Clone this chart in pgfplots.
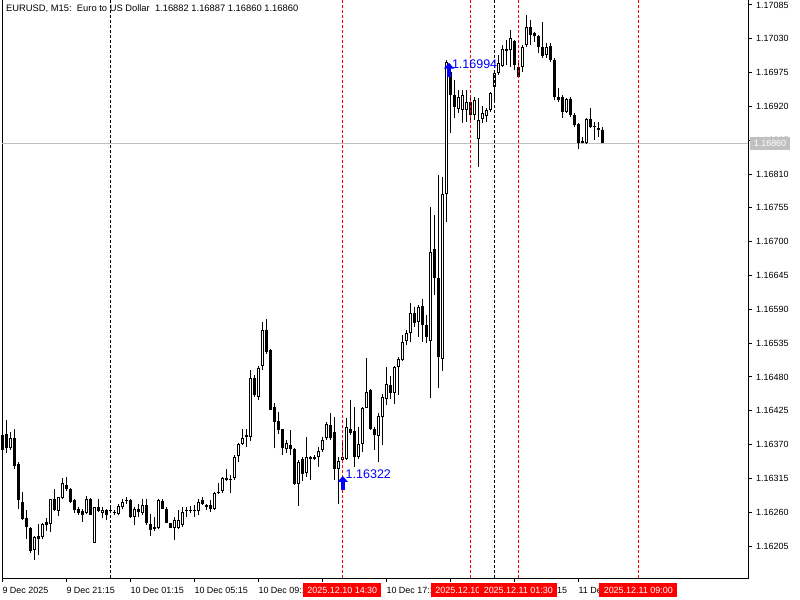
\documentclass[border=0pt]{standalone}
\usepackage{fontspec}
\setmainfont{Liberation Sans}
\usepackage{pgfplots}
\pgfplotsset{compat=1.18}
\usepackage{pgfplotstable}
\usetikzlibrary{arrows.meta}
\definecolor{mtblue}{RGB}{0,0,255}
\definecolor{pricegray}{RGB}{192,192,192}
\definecolor{mtred}{RGB}{255,0,0}

\pgfplotstableread{
i o h l c
0 1.16385 1.16391 1.16358 1.16361
1 1.16388 1.16410 1.16356 1.16364
2 1.16364 1.16391 1.16361 1.16380
3 1.16380 1.16395 1.16331 1.16335
4 1.16338 1.16342 1.16266 1.16280
5 1.16277 1.16293 1.16247 1.16249
6 1.16250 1.16263 1.16217 1.16236
7 1.16235 1.16236 1.16194 1.16197
8 1.16198 1.16221 1.16183 1.16220
9 1.16221 1.16241 1.16190 1.16217
10 1.16219 1.16243 1.16216 1.16241
11 1.16244 1.16250 1.16230 1.16240
12 1.16241 1.16282 1.16228 1.16281
13 1.16281 1.16297 1.16262 1.16263
14 1.16262 1.16285 1.16254 1.16284
15 1.16283 1.16316 1.16281 1.16307
16 1.16305 1.16318 1.16295 1.16298
17 1.16298 1.16299 1.16275 1.16277
18 1.16280 1.16282 1.16259 1.16263
19 1.16266 1.16269 1.16255 1.16259
20 1.16262 1.16266 1.16244 1.16255
21 1.16258 1.16286 1.16257 1.16281
22 1.16282 1.16283 1.16255 1.16255
23 1.16210 1.16269 1.16210 1.16268
24 1.16268 1.16281 1.16260 1.16262
25 1.16258 1.16268 1.16250 1.16263
26 1.16263 1.16266 1.16247 1.16255
27 1.16263 1.16268 1.16258 1.16262
28 1.16260 1.16263 1.16255 1.16259
29 1.16257 1.16273 1.16255 1.16270
30 1.16268 1.16281 1.16266 1.16276
31 1.16280 1.16285 1.16274 1.16278
32 1.16280 1.16281 1.16250 1.16252
33 1.16253 1.16269 1.16239 1.16266
34 1.16266 1.16274 1.16252 1.16260
35 1.16258 1.16281 1.16255 1.16271
36 1.16271 1.16282 1.16239 1.16242
37 1.16241 1.16257 1.16222 1.16231
38 1.16236 1.16253 1.16229 1.16233
39 1.16234 1.16281 1.16232 1.16280
40 1.16279 1.16281 1.16265 1.16266
41 1.16266 1.16268 1.16242 1.16243
42 1.16242 1.16243 1.16234 1.16235
43 1.16234 1.16252 1.16214 1.16248
44 1.16235 1.16263 1.16232 1.16248
45 1.16239 1.16269 1.16236 1.16261
46 1.16262 1.16269 1.16253 1.16261
47 1.16262 1.16270 1.16258 1.16261
48 1.16263 1.16272 1.16253 1.16262
49 1.16262 1.16282 1.16255 1.16277
50 1.16280 1.16285 1.16272 1.16273
51 1.16272 1.16273 1.16263 1.16269
52 1.16272 1.16280 1.16261 1.16265
53 1.16266 1.16293 1.16263 1.16292
54 1.16291 1.16307 1.16289 1.16293
55 1.16295 1.16318 1.16291 1.16315
56 1.16315 1.16331 1.16310 1.16312
57 1.16314 1.16320 1.16292 1.16312
58 1.16315 1.16353 1.16312 1.16350
59 1.16351 1.16372 1.16342 1.16371
60 1.16371 1.16396 1.16369 1.16380
61 1.16385 1.16396 1.16366 1.16382
62 1.16383 1.16491 1.16375 1.16478
63 1.16478 1.16483 1.16448 1.16450
64 1.16448 1.16497 1.16442 1.16495
65 1.16497 1.16570 1.16491 1.16556
66 1.16556 1.16574 1.16518 1.16521
67 1.16524 1.16526 1.16426 1.16427
68 1.16431 1.16437 1.16364 1.16407
69 1.16409 1.16423 1.16388 1.16394
70 1.16395 1.16396 1.16353 1.16364
71 1.16362 1.16377 1.16356 1.16372
72 1.16369 1.16394 1.16353 1.16362
73 1.16363 1.16364 1.16304 1.16306
74 1.16306 1.16345 1.16270 1.16342
75 1.16347 1.16350 1.16310 1.16322
76 1.16323 1.16382 1.16318 1.16349
77 1.16349 1.16351 1.16312 1.16346
78 1.16346 1.16353 1.16345 1.16349
79 1.16350 1.16366 1.16334 1.16360
80 1.16361 1.16383 1.16358 1.16377
81 1.16380 1.16407 1.16377 1.16403
82 1.16402 1.16422 1.16377 1.16380
83 1.16390 1.16415 1.16312 1.16330
84 1.16331 1.16350 1.16273 1.16343
85 1.16345 1.16377 1.16345 1.16349
86 1.16346 1.16413 1.16345 1.16398
87 1.16396 1.16442 1.16385 1.16389
88 1.16392 1.16431 1.16334 1.16349
89 1.16350 1.16399 1.16347 1.16371
90 1.16371 1.16431 1.16358 1.16430
91 1.16430 1.16510 1.16429 1.16456
92 1.16459 1.16460 1.16394 1.16396
93 1.16395 1.16399 1.16361 1.16385
94 1.16384 1.16421 1.16342 1.16416
95 1.16415 1.16452 1.16369 1.16447
96 1.16444 1.16496 1.16434 1.16468
97 1.16467 1.16481 1.16444 1.16454
98 1.16454 1.16497 1.16436 1.16496
99 1.16496 1.16512 1.16450 1.16509
100 1.16507 1.16548 1.16506 1.16537
101 1.16538 1.16556 1.16532 1.16551
102 1.16551 1.16600 1.16537 1.16584
103 1.16584 1.16594 1.16561 1.16568
104 1.16569 1.16597 1.16545 1.16594
105 1.16595 1.16607 1.16537 1.16564
106 1.16564 1.16581 1.16535 1.16545
107 1.16538 1.16756 1.16446 1.16683
108 1.16688 1.16743 1.16613 1.16641
109 1.16641 1.16808 1.16462 1.16512
110 1.16509 1.16805 1.16490 1.16777
111 1.16777 1.16995 1.16732 1.16992
112 1.16976 1.16987 1.16877 1.16939
113 1.16939 1.16963 1.16901 1.16919
114 1.16916 1.16947 1.16909 1.16935
115 1.16914 1.16947 1.16893 1.16939
116 1.16914 1.16947 1.16895 1.16927
117 1.16927 1.16934 1.16895 1.16906
118 1.16906 1.16935 1.16898 1.16930
119 1.16867 1.16934 1.16821 1.16898
120 1.16899 1.16921 1.16893 1.16909
121 1.16904 1.16917 1.16895 1.16914
122 1.16914 1.16943 1.16911 1.16942
123 1.16951 1.16976 1.16930 1.16974
124 1.16974 1.17004 1.16971 1.16991
125 1.16986 1.17020 1.16984 1.17013
126 1.17010 1.17028 1.16987 1.17013
127 1.17012 1.17044 1.16984 1.17031
128 1.17026 1.17028 1.16979 1.16987
129 1.16984 1.16995 1.16968 1.16968
130 1.16984 1.17020 1.16976 1.17017
131 1.17020 1.17069 1.17017 1.17049
132 1.17049 1.17060 1.17020 1.17036
133 1.17039 1.17041 1.17025 1.17034
134 1.17034 1.17036 1.17007 1.17017
135 1.17017 1.17057 1.16999 1.17002
136 1.17004 1.17023 1.16999 1.17017
137 1.17018 1.17023 1.16992 1.16995
138 1.16995 1.16999 1.16930 1.16935
139 1.16935 1.16950 1.16927 1.16930
140 1.16935 1.16938 1.16901 1.16911
141 1.16911 1.16934 1.16909 1.16932
142 1.16932 1.16935 1.16903 1.16906
143 1.16906 1.16909 1.16886 1.16890
144 1.16891 1.16893 1.16851 1.16860
145 1.16864 1.16870 1.16860 1.16860
146 1.16860 1.16901 1.16859 1.16899
147 1.16899 1.16917 1.16885 1.16886
148 1.16886 1.16895 1.16865 1.16885
149 1.16885 1.16895 1.16870 1.16882
150 1.16882 1.16887 1.16860 1.16860
}\candles

\begin{document}
\begin{tikzpicture}[x=1bp,y=1bp]
\path[use as bounding box] (0,0) rectangle (800,-600);
\begin{axis}[
  at={(2bp,0bp)}, anchor=north west,
  scale only axis, width=746bp, height=578bp,
  xmin=-0.0825, xmax=186.42, ymin=1.16153, ymax=1.17093,
  clip=false,
  axis line style={black, line width=1bp},
  tick align=outside,
  xtick pos=left, ytick pos=right,
  xticklabel pos=left, yticklabel pos=right,
  major tick length=4bp,
  tick style={black, line width=1bp},
  xtick={0,16,32,48,64,80,96,112,128,144},
  xticklabels={9 Dec 2025, 9 Dec 21:15, 10 Dec 01:15, 10 Dec 05:15, 10 Dec 09:15, 10 Dec 13:15, 10 Dec 17:15, 10 Dec 21:15, 11 Dec 01:15, 11 Dec 05:15},
  ytick={1.16205,1.16260,1.16315,1.16370,1.16425,1.16480,1.16535,1.16590,1.16645,1.16700,1.16755,1.16810,1.16865,1.16920,1.16975,1.17030,1.17085},
  yticklabels={1.16205,1.16260,1.16315,1.16370,1.16425,1.16480,1.16535,1.16590,1.16645,1.16700,1.16755,1.16810,1.16865,1.16920,1.16975,1.17030,1.17085},
  ticklabel style={font=\fontsize{9}{10}\selectfont, inner sep=0pt},
  xticklabel style={anchor=north west, yshift=-5bp},
  yticklabel style={anchor=west, xshift=4bp},
  every axis plot/.append style={forget plot},
]
% bid line
\addplot[pricegray, line width=1bp] coordinates {(-0.0825,1.16860) (186.42,1.16860)};
% wicks
\addplot[draw=none, mark=none, error bars/.cd, y dir=plus, y explicit, error mark=none,
  error bar style={draw=black, line width=1bp}]
  table[x=i, y=l, y error plus expr={\thisrow{h}-\thisrow{l}}] {\candles};
% bodies
\addplot[draw=none, mark=none, error bars/.cd, y dir=plus, y explicit, error mark=none,
  error bar style={draw=black, line width=3bp}]
  table[x=i, y expr={min(\thisrow{o},\thisrow{c})}, y error plus expr={max(abs(\thisrow{o}-\thisrow{c}),0.0000163)}] {\candles};
% hollow interior of rising candles
\addplot[draw=none, mark=none, error bars/.cd, y dir=plus, y explicit, error mark=none,
  error bar style={draw=white, line width=1bp}]
  table[x=i, y expr={\thisrow{o}+0.0000163}, y error plus expr={ifthenelse(\thisrow{c}>\thisrow{o}, max(\thisrow{c}-\thisrow{o}-0.0000326,0), 0)}] {\candles};
% period separators
\addplot[black, line width=1bp, dash pattern=on 3bp off 2bp] coordinates {(27,1.16153) (27,1.17093)};
\addplot[black, line width=1bp, dash pattern=on 3bp off 2bp] coordinates {(123,1.16153) (123,1.17093)};
% red vertical lines
\addplot[mtred, line width=1bp, dash pattern=on 3bp off 2bp] coordinates {(85,1.16153) (85,1.17093)};
\addplot[mtred, line width=1bp, dash pattern=on 3bp off 2bp] coordinates {(117,1.16153) (117,1.17093)};
\addplot[mtred, line width=1bp, dash pattern=on 3bp off 2bp] coordinates {(129,1.16153) (129,1.17093)};
\addplot[mtred, line width=1bp, dash pattern=on 3bp off 2bp] coordinates {(159,1.16153) (159,1.17093)};
% buy arrows
\addplot[mtblue, line width=4bp, -{Triangle[width=10bp,length=6bp]}] coordinates {(85.1,1.16296) (85.1,1.16319)}
  node[pos=1, anchor=west, xshift=1bp, yshift=2bp, inner sep=0pt, text=mtblue, font=\fontsize{12.5bp}{14bp}\selectfont] {1.16322};
\addplot[mtblue, line width=4bp, -{Triangle[width=10bp,length=6bp]}] coordinates {(111.67,1.16968) (111.67,1.16991)}
  node[pos=1, anchor=west, xshift=1bp, yshift=-1bp, inner sep=0pt, text=mtblue, font=\fontsize{12.5bp}{14bp}\selectfont] {1.16994};
\coordinate (r1) at (axis cs:85,1.16133);
\coordinate (r2) at (axis cs:117,1.16133);
\coordinate (r3) at (axis cs:129,1.16133);
\coordinate (r4) at (axis cs:159,1.16133);
\coordinate (gp) at (axis cs:191.92,1.16860);
\coordinate (tl) at (rel axis cs:0,1);
\end{axis}
\tikzset{redlab/.style={fill=mtred, text=white, minimum width=78bp, minimum height=14bp, inner sep=0pt, font=\fontsize{9}{10}\selectfont}}
\node[redlab] at (r1) {2025.12.10 14:30};
\node[redlab] at (r2) {2025.12.10 22:30};
\node[redlab] at (r3) {2025.12.11 01:30};
\node[redlab] at (r4) {2025.12.11 09:00};
\node[fill=pricegray, text=white, minimum width=40bp, minimum height=13bp, inner sep=0pt, font=\fontsize{9}{10}\selectfont] at (gp) {1.16860};
\node[anchor=base west, inner sep=0pt, font=\fontsize{9.4}{10}\selectfont] at ([shift={(4bp,-12bp)}]tl) {EURUSD, M15:\ \ Euro to US Dollar\ \ 1.16882 1.16887 1.16860 1.16860};
\end{tikzpicture}
\end{document}
